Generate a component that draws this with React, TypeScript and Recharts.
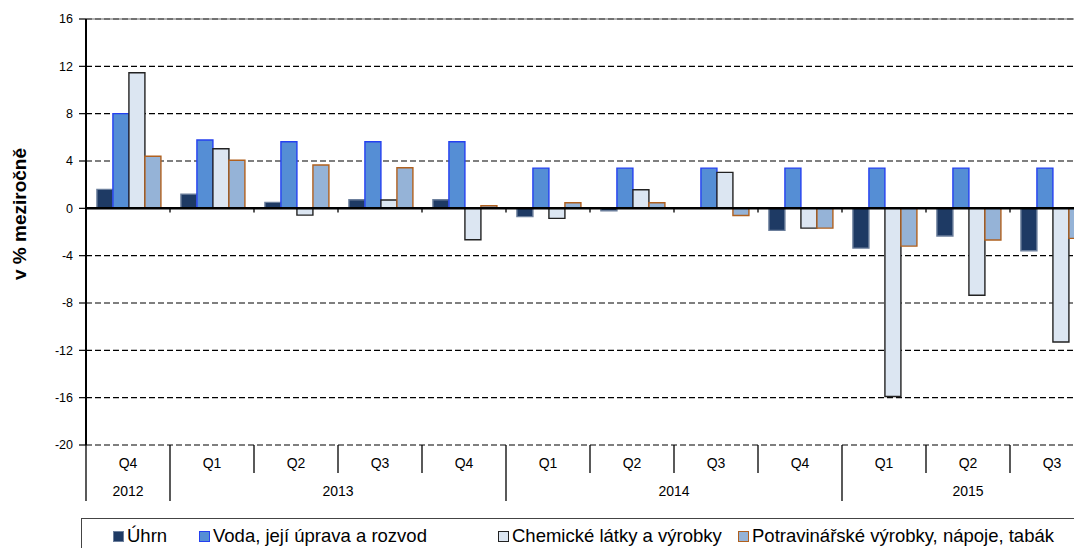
import React from 'react';
import { BarChart, Bar, XAxis, YAxis, CartesianGrid, ReferenceLine } from 'recharts';

const quarters = ['Q4', 'Q1', 'Q2', 'Q3', 'Q4', 'Q1', 'Q2', 'Q3', 'Q4', 'Q1', 'Q2', 'Q3'];
const years = ['2012', '2013', '2013', '2013', '2013', '2014', '2014', '2014', '2014', '2015', '2015', '2015'];
const uhrn = [1.6, 1.2, 0.5, 0.73, 0.73, -0.7, -0.2, 0, -1.86, -3.36, -2.34, -3.58];
const voda = [8.0, 5.77, 5.63, 5.63, 5.63, 3.4, 3.4, 3.4, 3.4, 3.4, 3.4, 3.4];
const chem = [11.46, 5.04, -0.57, 0.7, -2.65, -0.85, 1.57, 3.04, -1.67, -15.9, -7.35, -11.3];
const potr = [4.4, 4.06, 3.66, 3.43, 0.22, 0.47, 0.47, -0.6, -1.67, -3.19, -2.68, -2.54];
const yTicks = [-20, -16, -12, -8, -4, 0, 4, 8, 12, 16];
const seriesNames = ['Úhrn', 'Voda, její úprava a rozvod', 'Chemické látky a výrobky', 'Potravinářské výrobky, nápoje, tabák'];
const yLabel = 'v % meziročně';

const seriesKeys = ['uhrn', 'voda', 'chem', 'potr'];
const seriesFill = ['#1E3A64', '#558ED5', '#DCE6F2', '#95B3D7'];
const seriesStroke = ['#6c7f9c', '#2440F0', '#222222', '#B0601E'];
const legendLeft = [112, 198, 497, 737];

const FONT = '"Liberation Sans", Arial, sans-serif';

const data = quarters.map((q, i) => ({
  key: `${years[i]} ${q}`,
  uhrn: uhrn[i],
  voda: voda[i],
  chem: chem[i],
  potr: potr[i],
}));

const QuarterTick = (props: any) => {
  const { x, y, payload } = props;
  const half = payload && payload.offset ? payload.offset : 42;
  const i = payload && typeof payload.index === 'number' ? payload.index : props.index;
  const left = x - half;
  return (
    <g>
      <line x1={left} y1={y} x2={left} y2={y + 28} stroke="#000" strokeWidth={1.3} />
      <text x={x} y={y + 18} textAnchor="middle" dominantBaseline="central" fontSize={14} fontFamily={FONT} fill="#000">
        {quarters[i]}
      </text>
    </g>
  );
};

const YearTick = (props: any) => {
  const { x, y, payload } = props;
  const half = payload && payload.offset ? payload.offset : 42;
  const i = payload && typeof payload.index === 'number' ? payload.index : props.index;
  if (i > 0 && years[i] === years[i - 1]) return <g />;
  const count = years.filter((yr) => yr === years[i]).length;
  const left = x - half;
  const center = left + count * half;
  return (
    <g>
      <line x1={left} y1={y} x2={left} y2={y + 28} stroke="#000" strokeWidth={1.3} />
      <text x={center} y={y + 18} textAnchor="middle" dominantBaseline="central" fontSize={14} fontFamily={FONT} fill="#000">
        {years[i]}
      </text>
    </g>
  );
};

const YLabel = (props: any) => {
  const vb = props.viewBox || { x: 0, y: 11, height: 426 };
  const cx = 11;
  const cy = vb.y + vb.height / 2 - 18;
  return (
    <text
      x={cx}
      y={cy}
      transform={`rotate(-90, ${cx}, ${cy})`}
      textAnchor="middle"
      dominantBaseline="central"
      fontSize={19}
      fontWeight="bold"
      fontFamily={FONT}
      fill="#000"
    >
      {yLabel}
    </text>
  );
};

export default function App() {
  return (
    <div style={{ width: 1074, height: 540, overflow: 'hidden', position: 'relative', fontFamily: FONT }}>
      <BarChart
        width={1100}
        height={530}
        data={data}
        margin={{ top: 11, right: 14, left: 0, bottom: 37 }}
        barCategoryGap="13%"
        barGap={0}
      >
        <CartesianGrid vertical={false} stroke="#000" strokeDasharray="6 3" strokeWidth={1.2} />
        <XAxis
          dataKey="key"
          xAxisId="q"
          height={28}
          axisLine={false}
          tickLine={false}
          tickSize={0}
          tickMargin={0}
          interval={0}
          tick={<QuarterTick />}
        />
        <XAxis
          dataKey="key"
          xAxisId="yr"
          height={28}
          axisLine={false}
          tickLine={false}
          tickSize={0}
          tickMargin={0}
          interval={0}
          tick={<YearTick />}
        />
        <YAxis
          width={78}
          domain={[-20, 16]}
          ticks={yTicks}
          interval={0}
          tickSize={7}
          tickMargin={6}
          axisLine={{ stroke: '#000', strokeWidth: 2 }}
          tickLine={{ stroke: '#000', strokeWidth: 1.2 }}
          tick={{ fontSize: 12.5, fill: '#000', fontFamily: FONT }}
          label={<YLabel />}
        />
        {seriesKeys.map((k, s) => (
          <Bar
            key={k}
            xAxisId="q"
            dataKey={k}
            name={seriesNames[s]}
            fill={seriesFill[s]}
            stroke={seriesStroke[s]}
            strokeWidth={1.4}
            isAnimationActive={false}
          />
        ))}
        <ReferenceLine xAxisId="q" y={16} stroke="#666" strokeWidth={1} />
        <ReferenceLine xAxisId="q" y={0} stroke="#000" strokeWidth={2.5} />
        {data.slice(1).map((d) => (
          <ReferenceLine
            key={`t-${d.key}`}
            xAxisId="q"
            position="start"
            segment={[{ x: d.key, y: 0 }, { x: d.key, y: -0.35 }]}
            stroke="#000"
            strokeWidth={1.3}
          />
        ))}
      </BarChart>
      <div
        style={{
          position: 'absolute',
          left: 73,
          top: 510,
          width: 1100,
          height: 60,
          borderTop: '1.5px solid #444',
          borderLeft: '1.5px solid #444',
          boxSizing: 'border-box',
        }}
      >
        {seriesNames.map((n, s) => (
          <div
            key={n}
            style={{
              position: 'absolute',
              left: legendLeft[s] - 8 - 73,
              top: 6,
              display: 'flex',
              alignItems: 'center',
              whiteSpace: 'nowrap',
              fontSize: 18.5,
              lineHeight: '22px',
              fontFamily: FONT,
              color: '#000',
            }}
          >
            <span
              style={{
                display: 'inline-block',
                width: 9,
                height: 9,
                background: seriesFill[s],
                border: `1.5px solid ${seriesStroke[s]}`,
                marginRight: 3,
              }}
            />
            <span>{n}</span>
          </div>
        ))}
      </div>
    </div>
  );
}
